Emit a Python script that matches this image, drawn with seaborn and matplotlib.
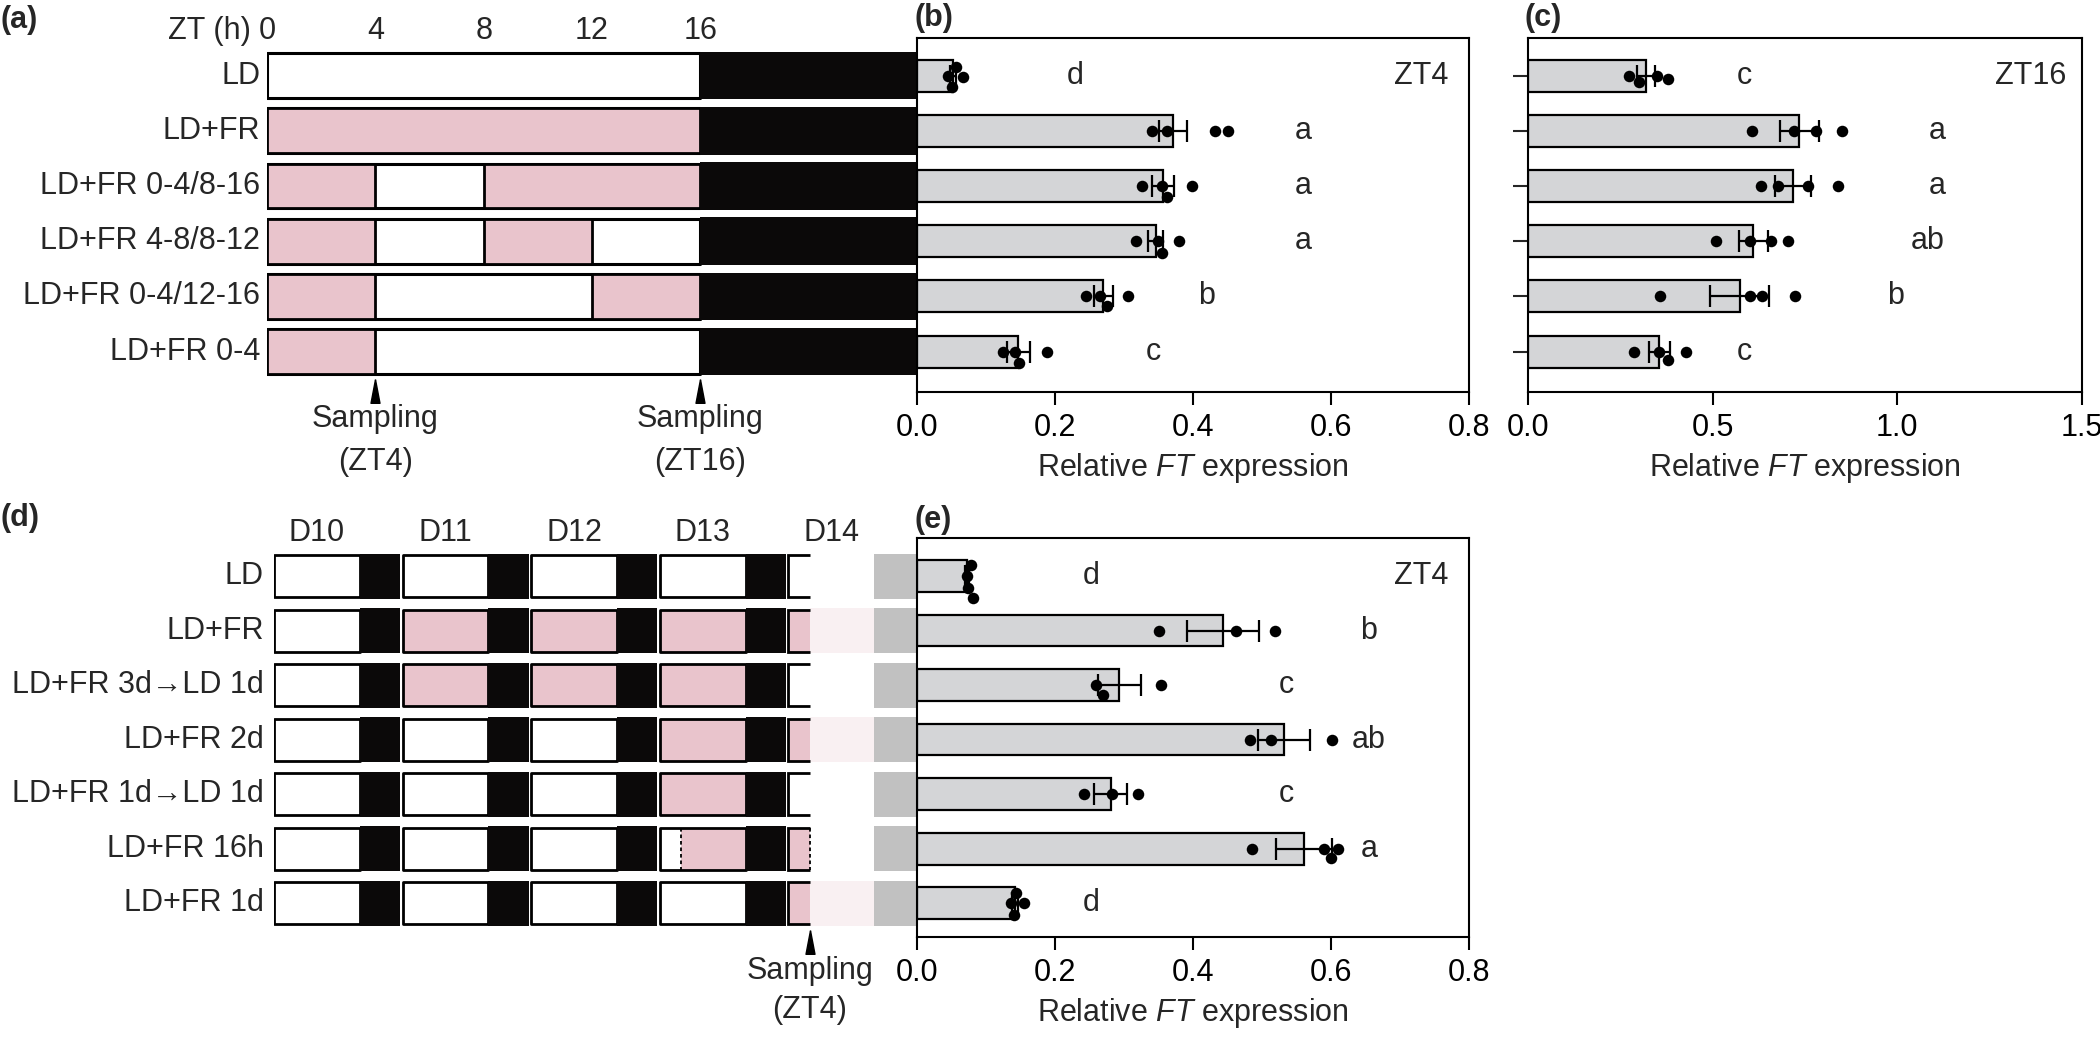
import numpy as np
import pandas as pd
import matplotlib
matplotlib.use('Agg')
import matplotlib.pyplot as plt
import matplotlib.transforms as mtransforms
import seaborn as sns

# ---------------- data ----------------
rows_a = ['LD', 'LD+FR', 'LD+FR 0-4/8-16', 'LD+FR 4-8/8-12', 'LD+FR 0-4/12-16', 'LD+FR 0-4']
fr_a = [[], [(0, 16)], [(0, 4), (8, 16)], [(0, 4), (8, 12)], [(0, 4), (12, 16)], [(0, 4)]]
zt_ticks = [0, 4, 8, 12, 16]
light_hours = 16
day_hours = 24
sampling_a = [4, 16]
sampling_a_labels = ['Sampling\n(ZT4)', 'Sampling\n(ZT16)']

b_mean = [0.052, 0.371, 0.357, 0.346, 0.270, 0.147]
b_se = [0.004, 0.021, 0.016, 0.011, 0.014, 0.017]
b_pts = [[0.045, 0.050, 0.057, 0.067],
         [0.340, 0.362, 0.432, 0.451],
         [0.326, 0.355, 0.362, 0.398],
         [0.318, 0.349, 0.355, 0.380],
         [0.245, 0.265, 0.275, 0.306],
         [0.125, 0.142, 0.148, 0.188]]
b_letters = ['d', 'a', 'a', 'a', 'b', 'c']
b_letter_x = [0.229, 0.56, 0.56, 0.56, 0.42, 0.342]

c_mean = [0.320, 0.735, 0.718, 0.610, 0.573, 0.356]
c_se = [0.025, 0.052, 0.048, 0.040, 0.080, 0.028]
c_pts = [[0.273, 0.300, 0.350, 0.380],
         [0.606, 0.720, 0.780, 0.851],
         [0.630, 0.678, 0.758, 0.838],
         [0.510, 0.600, 0.658, 0.703],
         [0.358, 0.600, 0.633, 0.723],
         [0.288, 0.356, 0.378, 0.428]]
c_letters = ['c', 'a', 'a', 'ab', 'b', 'c']
c_letter_x = [0.585, 1.108, 1.108, 1.083, 0.996, 0.585]

rows_d = ['LD', 'LD+FR', 'LD+FR 3d\u2192LD 1d', 'LD+FR 2d', 'LD+FR 1d\u2192LD 1d', 'LD+FR 16h', 'LD+FR 1d']
days_d = ['D10', 'D11', 'D12', 'D13', 'D14']
fr_d = [[],
        [(24, 40), (48, 64), (72, 88), (96, 112)],
        [(24, 40), (48, 64), (72, 88)],
        [(72, 88), (96, 112)],
        [(72, 88)],
        [(76, 88), (96, 100)],
        [(96, 112)]]
sampling_d = 100
sampling_d_label = 'Sampling\n(ZT4)'

e_mean = [0.072, 0.443, 0.293, 0.532, 0.281, 0.561, 0.142]
e_se = [0.003, 0.052, 0.031, 0.038, 0.024, 0.040, 0.005]
e_pts = [[0.072, 0.074, 0.078, 0.081],
         [0.350, 0.462, 0.519],
         [0.260, 0.270, 0.353],
         [0.482, 0.513, 0.602],
         [0.242, 0.282, 0.321],
         [0.486, 0.590, 0.600, 0.610],
         [0.136, 0.140, 0.144, 0.155]]
e_letters = ['d', 'b', 'c', 'ab', 'c', 'a', 'd']
e_letter_x = [0.252, 0.655, 0.535, 0.655, 0.535, 0.655, 0.252]

# ---------------- style ----------------
sns.set_style('ticks')
plt.rcParams['font.family'] = ['Liberation Sans', 'DejaVu Sans']
plt.rcParams['mathtext.fontset'] = 'custom'
plt.rcParams['mathtext.rm'] = 'Liberation Sans'
plt.rcParams['mathtext.it'] = 'Liberation Sans:italic'
plt.rcParams['mathtext.bf'] = 'Liberation Sans:bold'
FS = 22
LS = 1.55
PINK = '#e9c4cc'
DARK = '#0b0909'
BAR = '#d4d5d7'

W, H = 2100, 1038
fig = plt.figure(figsize=(W / 100, H / 100), dpi=100)


def add_ax(x0, y0, x1, y1):
    return fig.add_axes([x0 / W, 1 - y1 / H, (x1 - x0) / W, (y1 - y0) / H])


def fy(y):
    return 1 - y / H


ax_a = add_ax(267, 38, 917, 392)
ax_b = add_ax(917, 38, 1469, 392)
ax_c = add_ax(1528, 38, 2082, 392)
ax_d = add_ax(274, 538, 917, 937)
ax_e = add_ax(917, 538, 1469, 937)

ylim_top = (len(rows_a) - 1 + 0.73, -0.68)
ylim_bot = (len(rows_d) - 1 + 0.62, -0.70)


# ---------------- bar panels ----------------
def bar_panel(ax, cats, mean, se, pts, letters, letter_x, xmax, xticks, fmt, tag, tag_x, ylim, yticks):
    df = pd.DataFrame({'cat': cats, 'val': mean})
    sns.barplot(data=df, x='val', y='cat', order=cats, orient='h', color=BAR, saturation=1,
                edgecolor='black', linewidth=1.6, width=0.58, errorbar=None, ax=ax)
    pos = np.arange(len(cats))
    ax.errorbar(mean, pos, xerr=se, fmt='none', ecolor='black', elinewidth=1.6,
                capsize=8, capthick=1.6, zorder=3)
    long = pd.DataFrame({'cat': np.repeat(cats, [len(p) for p in pts]),
                         'val': np.concatenate(pts)})
    sns.swarmplot(data=long, x='val', y='cat', order=cats, orient='h', color='black',
                  size=8.3, ax=ax, zorder=4)
    for i, (lt, lx) in enumerate(zip(letters, letter_x)):
        ax.text(lx, i, lt, ha='center', va='center', fontsize=FS)
    ax.text(tag_x, 0, tag, ha='right', va='center', fontsize=FS)
    ax.set_xlim(0, xmax)
    ax.set_ylim(*ylim)
    ax.set_xticks(xticks)
    ax.set_xticklabels([fmt.format(t) for t in xticks])
    ax.set_xlabel('Relative $\\it{FT}$ expression', fontsize=FS, labelpad=6)
    ax.set_ylabel('')
    ax.tick_params(axis='x', direction='out', length=9, width=1.5, labelsize=FS, pad=6, colors='black')
    if yticks:
        ax.tick_params(axis='y', direction='out', length=11, width=1.5, labelleft=False)
    else:
        ax.tick_params(axis='y', length=0, labelleft=False)
    for sp in ax.spines.values():
        sp.set_visible(True)
        sp.set_linewidth(1.5)
        sp.set_color('black')


bar_panel(ax_b, rows_a, b_mean, b_se, b_pts, b_letters, b_letter_x, 0.8,
          [0.0, 0.2, 0.4, 0.6, 0.8], '{:.1f}', 'ZT4', 0.77, ylim_top, False)
bar_panel(ax_c, rows_a, c_mean, c_se, c_pts, c_letters, c_letter_x, 1.5,
          [0.0, 0.5, 1.0, 1.5], '{:.1f}', 'ZT16', 1.457, ylim_top, True)
bar_panel(ax_e, rows_d, e_mean, e_se, e_pts, e_letters, e_letter_x, 0.8,
          [0.0, 0.2, 0.4, 0.6, 0.8], '{:.1f}', 'ZT4', 0.77, ylim_bot, False)

# ---------------- schematic (a) ----------------
h_a = 0.81
pad_a = 0.025
for r, ivs in enumerate(fr_a):
    y0 = r - h_a / 2
    ax_a.broken_barh([(0, light_hours)], (y0, h_a), facecolors='white', edgecolors='black', linewidth=2.2)
    if ivs:
        ax_a.broken_barh([(a, b - a) for a, b in ivs], (y0, h_a), facecolors=PINK,
                         edgecolors='black', linewidth=2.0)
    ax_a.broken_barh([(light_hours, day_hours - light_hours)], (y0 - pad_a, h_a + 2 * pad_a),
                     facecolors=DARK, edgecolors='none')
    ax_a.text(-0.25, r, rows_a[r], ha='right', va='center', fontsize=FS)
ax_a.set_xlim(0, day_hours)
ax_a.set_ylim(*ylim_top)
ax_a.set_axis_off()

tr_a = mtransforms.blended_transform_factory(ax_a.transData, fig.transFigure)
for t in zt_ticks:
    ax_a.text(t, fy(31), str(t), transform=tr_a, ha='center', va='center', fontsize=FS)
ax_a.text(-0.6, fy(31), 'ZT (h)', transform=tr_a, ha='right', va='center', fontsize=FS)

arrow = [(0, 1), (-0.38, -1), (0.38, -1), (0, 1)]
for sx, lab in zip(sampling_a, sampling_a_labels):
    ax_a.plot([sx], [fy(391)], transform=tr_a, marker=arrow, markersize=17, color='black',
              clip_on=False, linestyle='none')
    ax_a.text(sx, fy(404), lab, transform=tr_a, ha='center', va='top', fontsize=FS,
              linespacing=LS)

# ---------------- schematic (d) ----------------
h_d = 0.77
pad_d = 0.026
gap = 0.45
n_days = len(days_d)
for r, ivs in enumerate(fr_d):
    y0 = r - h_d / 2
    for d in range(n_days):
        s = d * day_hours
        e_light = s + light_hours
        last = d == n_days - 1
        lim = sampling_d if last else e_light
        ax_d.broken_barh([(s, lim - s)], (y0, h_d), facecolors='white', edgecolors='none')
        clipped = [(max(a, s), min(b, lim) - max(a, s)) for a, b in ivs if min(b, lim) > max(a, s)]
        if clipped:
            ax_d.broken_barh(clipped, (y0, h_d), facecolors=PINK, edgecolors='none')
        if not last:
            ax_d.broken_barh([(s, light_hours)], (y0, h_d), facecolors='none',
                             edgecolors='black', linewidth=2.0)
            ax_d.broken_barh([(e_light, day_hours - light_hours - gap)], (y0 - pad_d, h_d + 2 * pad_d),
                             facecolors=DARK, edgecolors='none')
        else:
            ax_d.plot([lim, s, s, lim], [y0, y0, y0 + h_d, y0 + h_d], color='black', lw=2.0,
                      solid_joinstyle='miter', solid_capstyle='butt')
            faded = [(max(a, lim), min(b, e_light) - max(a, lim)) for a, b in ivs
                     if min(b, e_light) > max(a, lim)]
            if faded:
                ax_d.broken_barh(faded, (y0 - pad_d, h_d + 2 * pad_d), facecolors=PINK,
                                 edgecolors='none', alpha=0.25)
            ax_d.broken_barh([(e_light, day_hours - light_hours)], (y0 - pad_d, h_d + 2 * pad_d),
                             facecolors=DARK, edgecolors='none', alpha=0.25)
    for a, b in ivs:
        for v in (a, b):
            if v % day_hours not in (0, light_hours):
                ax_d.vlines(v, y0, y0 + h_d, colors='black', linestyles=(0, (2, 1.6)), lw=1.3)
    ax_d.text(-1.9, r, rows_d[r], ha='right', va='center', fontsize=FS)
ax_d.set_xlim(0, n_days * day_hours)
ax_d.set_ylim(*ylim_bot)
ax_d.set_axis_off()

tr_d = mtransforms.blended_transform_factory(ax_d.transData, fig.transFigure)
for d, lab in enumerate(days_d):
    ax_d.text(d * day_hours + light_hours / 2, fy(533), lab, transform=tr_d, ha='center',
              va='center', fontsize=FS)
ax_d.plot([sampling_d], [fy(942)], transform=tr_d, marker=arrow, markersize=17, color='black',
          clip_on=False, linestyle='none')
ax_d.text(sampling_d, fy(956), sampling_d_label, transform=tr_d, ha='center', va='top',
          fontsize=FS, linespacing=1.4)

# ---------------- panel labels ----------------
for lab, x, y in [('(a)', 0, 20), ('(b)', 915, 18), ('(c)', 1524, 18), ('(d)', 0, 518), ('(e)', 915, 520)]:
    fig.text(x / W, fy(y), lab, ha='left', va='center', fontsize=FS, fontweight='bold')

fig.savefig('out.png', dpi=100)
